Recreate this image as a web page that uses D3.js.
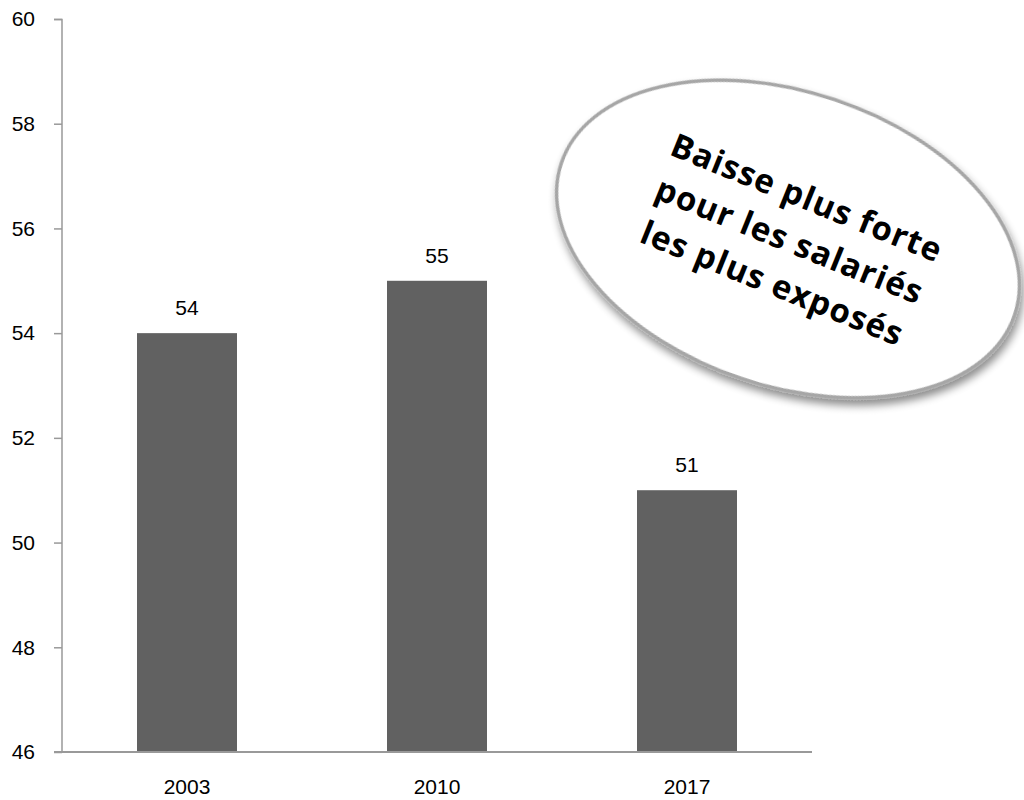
<!DOCTYPE html>
<html><head><meta charset="utf-8">
<script src="https://cdn.jsdelivr.net/npm/d3@7"></script>
<style>body{margin:0;background:#fff}svg{display:block}</style>
</head><body>
<svg id="c" width="1024" height="800"></svg>
<script>
const categories = ["2003", "2010", "2017"];
const values = [54, 55, 51];
const yTicks = [46, 48, 50, 52, 54, 56, 58, 60];
const calloutLines = ["Baisse plus forte", "pour les salariés", "les plus exposés"];

const svg = d3.select("#c");
const font = "'Liberation Sans', Arial, sans-serif";
const x = d3.scaleBand().domain(categories).range([62, 812]).paddingInner(0.6).paddingOuter(0.3);
const y = d3.scaleLinear().domain([46, 60]).range([752, 19]);

// bars
svg.selectAll("rect.bar").data(values).enter().append("rect")
  .attr("class","bar")
  .attr("x",(d,i)=>x(categories[i]))
  .attr("width",x.bandwidth())
  .attr("y",d=>y(d))
  .attr("height",d=>y(46)-y(d))
  .attr("fill","#616161");

// value labels
svg.selectAll("text.val").data(values).enter().append("text")
  .attr("x",(d,i)=>x(categories[i])+x.bandwidth()/2)
  .attr("y",d=>y(d)-18)
  .attr("text-anchor","middle")
  .attr("font-family",font).attr("font-size",21).attr("fill","#000")
  .text(d=>d);

// y axis
const yAxis = svg.append("g").attr("transform","translate(62,0)")
  .call(d3.axisLeft(y).tickValues(yTicks).tickSize(8).tickPadding(18).tickFormat(d3.format("d")));
yAxis.select(".domain").attr("stroke","#999").attr("stroke-width",1.5).attr("d","M-8,19.5H0V752");
yAxis.selectAll(".tick line").attr("stroke","#999").attr("stroke-width",1.5);
yAxis.selectAll(".tick text").attr("font-family",font).attr("font-size",21).attr("fill","#000").attr("dx",-1);

// x axis
const xAxis = svg.append("g").attr("transform","translate(0,752)")
  .call(d3.axisBottom(x).tickSize(0).tickPadding(27));
xAxis.select(".domain").attr("stroke","#999").attr("stroke-width",2).attr("d","M54,0H812");
xAxis.selectAll(".tick text").attr("font-family",font).attr("font-size",21).attr("fill","#000");

// callout ellipse
const defs = svg.append("defs");
const f = defs.append("filter").attr("id","sh").attr("x","-20%").attr("y","-20%").attr("width","140%").attr("height","140%");
f.append("feGaussianBlur").attr("in","SourceAlpha").attr("stdDeviation",4).attr("result","b");
f.append("feOffset").attr("in","b").attr("dx",4).attr("dy",5).attr("result","o");
f.append("feComponentTransfer").attr("in","o").attr("result","o2")
  .append("feFuncA").attr("type","linear").attr("slope",0.45);
const m = f.append("feMerge");
m.append("feMergeNode").attr("in","o2");
m.append("feMergeNode").attr("in","SourceGraphic");

const cg = svg.append("g").attr("transform","translate(788,239) rotate(18.5)");
cg.append("ellipse").attr("rx",239).attr("ry",147)
  .attr("fill","#fff").attr("stroke","#a6a6a6").attr("stroke-width",3.5)
  .attr("filter","url(#sh)");
const tg = svg.append("g").attr("transform","translate(789,242) rotate(22)");
tg.selectAll("text").data(calloutLines).enter().append("text")
  .attr("x",0).attr("y",(d,i)=>(i-1)*46+10)
  .attr("text-anchor","middle")
  .attr("font-family","'Open Sans', sans-serif").attr("font-weight","bold")
  .attr("font-size",33).attr("letter-spacing",1).attr("fill","#000")
  .text(d=>d);
</script>
</body></html>
